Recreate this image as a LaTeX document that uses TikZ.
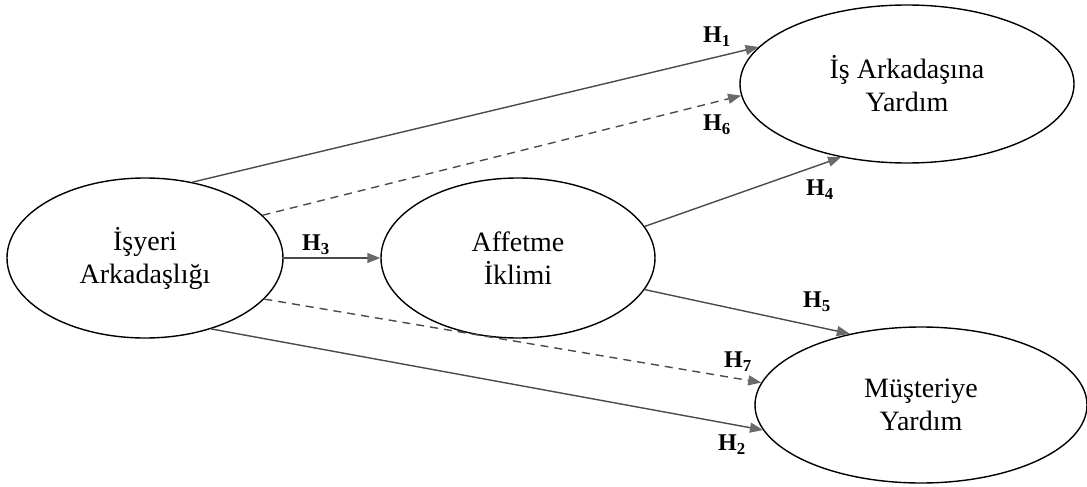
\documentclass[tikz,border=0pt]{standalone}
\usepackage{fontspec}
\setmainfont{Liberation Serif}
\usetikzlibrary{shapes.geometric,arrows.meta}
\definecolor{linegray}{HTML}{4A4A4A}
\definecolor{tipgray}{HTML}{6A6A6A}
\tikzset{
  construct/.style={draw=black, line width=1.4pt, ellipse, inner sep=0pt, align=center,
    font=\fontsize{28}{33}\selectfont},
  path/.style={draw=linegray, line width=1.4pt,
    -{Triangle[length=13pt,width=10pt,fill=tipgray,color=tipgray]}},
  dpath/.style={path, dash pattern=on 8pt off 6pt},
  hlabel/.style={inner sep=0pt, font=\fontsize{24}{26}\selectfont\bfseries}
}
\begin{document}
\begin{tikzpicture}[x=1pt,y=-1pt]
\useasboundingbox (0,0) rectangle (1087,487);
\node[construct, minimum width=276pt, minimum height=160pt] (e1) at (145,258) {İşyeri\\Arkadaşlığı};
\node[construct, minimum width=274pt, minimum height=160pt] (e2) at (518,258) {Affetme\\İklimi};
\node[construct, minimum width=334pt, minimum height=158pt] (e3) at (907,84) {İş Arkadaşına\\Yardım};
\node[construct, minimum width=332pt, minimum height=156pt] (e4) at (921,405) {Müşteriye\\Yardım};

\draw[path] (e1.58) -- (e3.166);
\draw[dpath] (e1.20) -- (e3.184);
\draw[path] (e2.14) -- (e3.228);
\draw[path] (e1.east) -- (e2.west);
\draw[path] (e2.346) -- (e4.135);
\draw[dpath] (e1.341) -- (e4.172.8);
\draw[path] (e1.313) -- (e4.189);

\node[hlabel] (h1) at (717,37) {H\textsubscript{1}};
\node[hlabel] (h6) at (717,125) {H\textsubscript{6}};
\node[hlabel] (h4) at (820,190) {H\textsubscript{4}};
\node[hlabel] (h3) at (316,245) {H\textsubscript{3}};
\node[hlabel] (h5) at (817,302) {H\textsubscript{5}};
\node[hlabel] (h7) at (738,362) {H\textsubscript{7}};
\node[hlabel] (h2) at (732,445) {H\textsubscript{2}};
\end{tikzpicture}
\end{document}
